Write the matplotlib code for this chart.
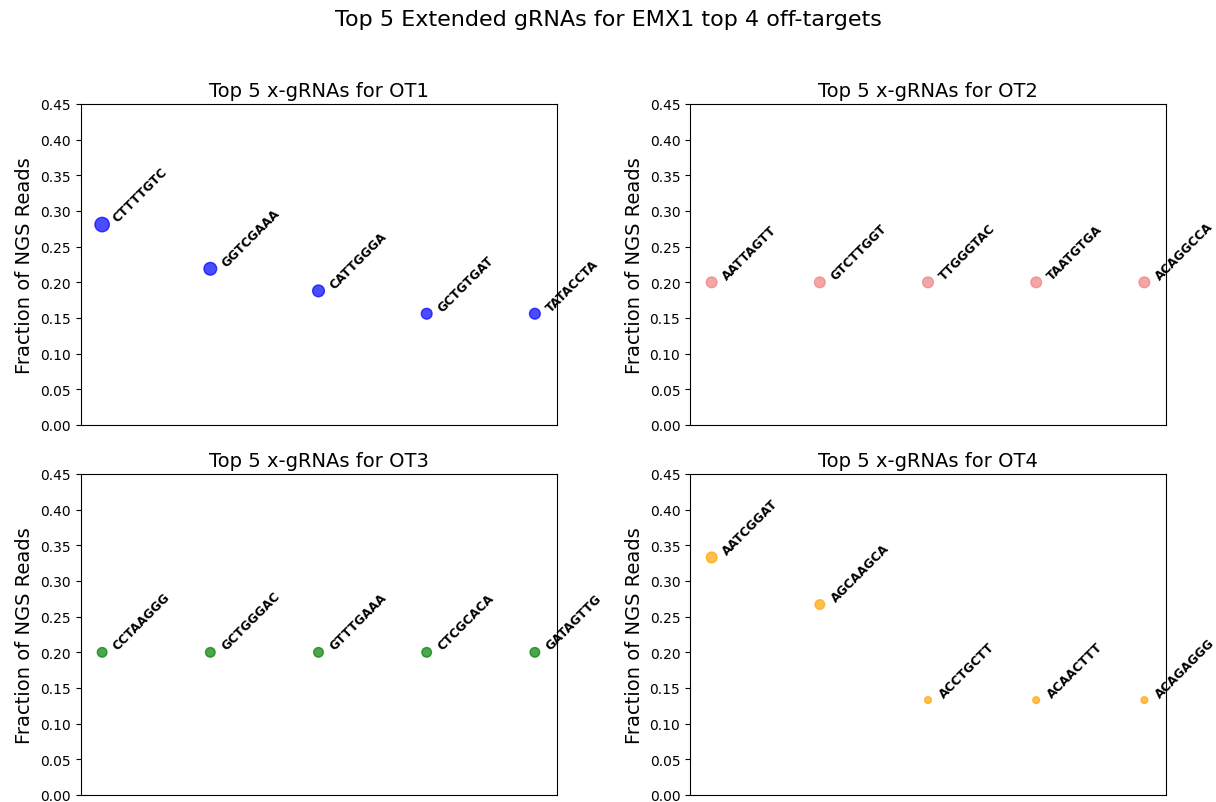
import matplotlib
matplotlib.use("Agg")
import matplotlib.pyplot as plt

# Extended gRNA sequences and their fraction of NGS reads per off-target
ot1_seqs = ["CTTTTGTC", "GGTCGAAA", "CATTGGGA", "GCTGTGAT", "TATACCTA"]
ot1_frac = [0.281, 0.219, 0.188, 0.156, 0.156]
ot1_reads = [9, 7, 6, 5, 5]

ot2_seqs = ["AATTAGTT", "GTCTTGGT", "TTGGGTAC", "TAATGTGA", "ACAGGCCA"]
ot2_frac = [0.200, 0.200, 0.200, 0.200, 0.200]
ot2_reads = [5, 5, 5, 5, 5]

ot3_seqs = ["CCTAAGGG", "GCTGGGAC", "GTTTGAAA", "CTCGCACA", "GATAGTTG"]
ot3_frac = [0.200, 0.200, 0.200, 0.200, 0.200]
ot3_reads = [4, 4, 4, 4, 4]

ot4_seqs = ["AATCGGAT", "AGCAAGCA", "ACCTGCTT", "ACAACTTT", "ACAGAGGG"]
ot4_frac = [0.333, 0.267, 0.133, 0.133, 0.133]
ot4_reads = [5, 4, 2, 2, 2]

panel_titles = ["Top 5 x-gRNAs for OT1", "Top 5 x-gRNAs for OT2",
                "Top 5 x-gRNAs for OT3", "Top 5 x-gRNAs for OT4"]
panel_colors = ["blue", "lightcoral", "green", "orange"]

W, H = 1216, 803
fig = plt.figure(figsize=(W / 100, H / 100), dpi=100)

def px_axes(left, top, right, bottom):
    return fig.add_axes([left / W, 1 - bottom / H, (right - left) / W, (bottom - top) / H])

axes = [
    px_axes(80.5, 105, 556.5, 426),
    px_axes(690, 105, 1166, 426),
    px_axes(80.5, 475, 556.5, 796),
    px_axes(690, 475, 1166, 796),
]

panels = [
    (ot1_seqs, ot1_frac, ot1_reads),
    (ot2_seqs, ot2_frac, ot2_reads),
    (ot3_seqs, ot3_frac, ot3_reads),
    (ot4_seqs, ot4_frac, ot4_reads),
]

for ax, (seqs, frac, reads), title, color in zip(axes, panels, panel_titles, panel_colors):
    xs = list(range(len(seqs)))
    ax.scatter(xs, frac, s=[r * 12 for r in reads], color=color, alpha=0.7, zorder=3)
    for x, y, seq in zip(xs, frac, seqs):
        ax.text(x + 0.08, y, seq, rotation=45, fontsize=8.8, fontweight="bold",
                ha="left", va="bottom", zorder=4)
    ax.set_ylim(0, 0.45)
    ax.set_yticks([i * 0.05 for i in range(10)])
    ax.set_xticks([])
    ax.set_title(title, fontsize=14)
    ax.set_ylabel("Fraction of NGS Reads", fontsize=14)

fig.suptitle("Top 5 Extended gRNAs for EMX1 top 4 off-targets", fontsize=16, y=1 - 20 / H, va="center")

fig.savefig("out.png", dpi=100)
